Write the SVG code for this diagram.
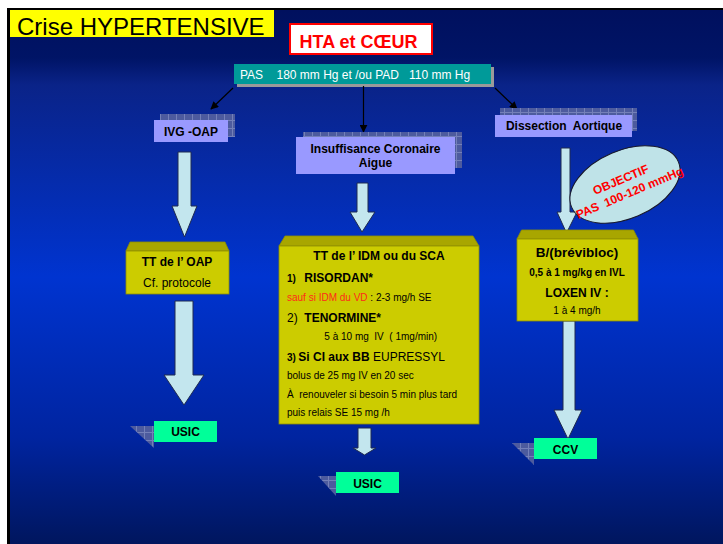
<svg xmlns="http://www.w3.org/2000/svg" width="723" height="544" viewBox="0 0 723 544">
<defs>
<linearGradient id="bg" x1="0" y1="10" x2="0" y2="544" gradientUnits="userSpaceOnUse">
<stop offset="0" stop-color="#00105e"/>
<stop offset="0.09" stop-color="#001466"/>
<stop offset="0.14" stop-color="#0a2388"/>
<stop offset="0.5" stop-color="#0034d0"/>
<stop offset="0.8" stop-color="#0024a0"/>
<stop offset="1" stop-color="#00165e"/>
</linearGradient>
<pattern id="hatch" width="8" height="8" patternUnits="userSpaceOnUse">
<rect width="8" height="8" fill="#4d5b9e"/>
<path d="M0 0.5H8M0.5 0V8" stroke="#7480b8" stroke-width="1"/>
</pattern>
<marker id="ah" viewBox="0 0 10 10" refX="9" refY="5" markerWidth="8" markerHeight="8" orient="auto" markerUnits="userSpaceOnUse">
<path d="M0 0L10 5L0 10Z" fill="#000"/>
</marker>
<style>
text{font-family:"Liberation Sans",Arial,sans-serif;fill:#000}
.b{font-weight:bold}
.lav{fill:#9999ff}
.sh{fill:url(#hatch)}
.front{fill:#cccc00;stroke:#8f8f00;stroke-width:0.8}
.top{fill:#a8a600;stroke:#8f8f00;stroke-width:0.8}
.grn{fill:#00ff99}
.blk{fill:#c3e6ee;stroke:#1e2a50;stroke-width:1}
.ln{stroke:#000;stroke-width:1.2;fill:none}
.red{fill:#ff0000}
</style>
</defs>

<rect x="0" y="0" width="723" height="544" fill="#fff"/>
<rect x="10" y="10" width="713" height="534" fill="url(#bg)"/>
<rect x="7" y="8" width="3" height="536" fill="#000"/>
<rect x="7" y="8" width="716" height="2" fill="#000"/>

<g id="title">
<rect x="10" y="10" width="264" height="27" fill="#ffff00"/>
<text x="17" y="35" font-size="24">Crise HYPERTENSIVE</text>
</g>

<g id="hta">
<rect x="290" y="24" width="142" height="30" fill="#fff" stroke="#ff0000" stroke-width="2"/>
<text x="358.5" y="47.5" font-size="18" class="b red" text-anchor="middle">HTA et CŒUR</text>
</g>

<g id="pas">
<rect x="237" y="67" width="257" height="20" fill="#9a9a9a"/>
<rect x="234" y="64" width="257" height="20" fill="#009a99"/>
<text x="240" y="78.7" font-size="12" style="fill:#fff" xml:space="preserve">PAS    180 mm Hg et /ou PAD   110 mm Hg</text>
</g>

<g id="connectors">
<line class="ln" x1="233" y1="88" x2="211" y2="109" marker-end="url(#ah)"/>
<line class="ln" x1="363.5" y1="86" x2="363.5" y2="132" marker-end="url(#ah)"/>
<line class="ln" x1="495" y1="88" x2="517" y2="109" marker-end="url(#ah)"/>
<path class="blk" d="M178 152H191V206H197L184.5 237L172 206H178Z"/>
<path class="blk" d="M175 301H193V375H204L184 405L164 375H175Z"/>
<path class="blk" d="M357 183H368V212H375L362 232L350 212H357Z"/>
<path class="blk" d="M358 428H371V448H376L364.5 455L353 448H358Z"/>
<path class="blk" d="M561 148H570V212H577L566.5 233L557 212H561Z"/>
<path class="blk" d="M563 321H575V410H582L568 439L554 410H563Z"/>
</g>

<g id="ivg">
<rect class="sh" x="160" y="114" width="75" height="23"/>
<rect class="lav" x="154" y="120" width="74" height="22"/>
<text x="191" y="135.5" font-size="12" class="b" text-anchor="middle">IVG -OAP</text>
</g>

<g id="coronaire">
<rect class="sh" x="303" y="132" width="159" height="36"/>
<rect class="lav" x="296" y="137" width="159" height="37"/>
<text x="375.5" y="152.7" font-size="12" class="b" text-anchor="middle">Insuffisance Coronaire</text>
<text x="375.5" y="166.7" font-size="12" class="b" text-anchor="middle">Aigue</text>
</g>

<g id="dissection">
<rect class="sh" x="500" y="108" width="137" height="23"/>
<rect class="lav" x="495" y="115" width="137" height="22"/>
<text x="564" y="130" font-size="12" class="b" text-anchor="middle" xml:space="preserve">Dissection  Aortique</text>
</g>

<g id="objectif" transform="translate(625 184.5) rotate(-23)">
<ellipse cx="0" cy="0" rx="58" ry="34" fill="#bfe3e8" stroke="#1a1a2a" stroke-width="1"/>
<text x="-2" y="-2" font-size="12" class="b red" text-anchor="middle">OBJECTIF</text>
<text x="1" y="13.5" font-size="12" class="b red" text-anchor="middle" xml:space="preserve">PAS  100-120 mmHg</text>
</g>

<g id="tt-oap">
<polygon class="top" points="130,242 225,242 229,251 126,251"/>
<rect class="front" x="126" y="251" width="103" height="43"/>
<text x="177" y="265.7" font-size="12" class="b" text-anchor="middle">TT de l’ OAP</text>
<text x="177" y="287" font-size="12" text-anchor="middle">Cf. protocole</text>
</g>

<g id="tt-idm">
<polygon class="top" points="285,236 473,236 479,246 279,246"/>
<rect class="front" x="279" y="246" width="200" height="178"/>
<text x="379" y="260" font-size="12" class="b" text-anchor="middle">TT de l’ IDM ou du SCA</text>
<text x="287" y="282.3" font-size="10" class="b">1)</text>
<text x="304.3" y="282.3" font-size="12" class="b">RISORDAN*</text>
<text x="287" y="300.7" font-size="10"><tspan style="fill:#ff2a1a">sauf si IDM du VD</tspan> : 2-3 mg/h SE</text>
<text x="287" y="322.3" font-size="12">2)</text>
<text x="304.3" y="322.3" font-size="12" class="b">TENORMINE*</text>
<text x="324.3" y="340" font-size="10" xml:space="preserve">5 à 10 mg  IV  ( 1mg/min)</text>
<text x="287" y="361" font-size="10" class="b">3)</text>
<text x="298.3" y="361" font-size="12"><tspan class="b">Si CI aux BB</tspan> EUPRESSYL</text>
<text x="287" y="379.3" font-size="10">bolus de 25 mg IV en 20 sec</text>
<text x="287" y="397.7" font-size="10" xml:space="preserve">À  renouveler si besoin 5 min plus tard</text>
<text x="287" y="415.7" font-size="10">puis relais SE 15 mg /h</text>
</g>

<g id="brevibloc">
<polygon class="top" points="521.5,230 633.5,230 638,239 517,239"/>
<rect class="front" x="517" y="239" width="121" height="82"/>
<text x="577" y="257.3" font-size="13.5" class="b" text-anchor="middle">B/(brévibloc)</text>
<text x="577" y="276" font-size="10" class="b" text-anchor="middle">0,5 à 1 mg/kg en IVL</text>
<text x="577" y="296.7" font-size="12" class="b" text-anchor="middle">LOXEN IV :</text>
<text x="577" y="314.3" font-size="10" text-anchor="middle">1 à 4 mg/h</text>
</g>

<g id="usic-left">
<polygon class="sh" points="130,426 154,426 154,448"/>
<rect class="grn" x="154" y="421" width="63" height="21"/>
<text x="185.5" y="436" font-size="12" class="b" text-anchor="middle">USIC</text>
</g>

<g id="usic-center">
<polygon class="sh" points="318,476 336,476 336,496"/>
<rect class="grn" x="336" y="472" width="63" height="21"/>
<text x="367.5" y="487.5" font-size="12" class="b" text-anchor="middle">USIC</text>
</g>

<g id="ccv">
<polygon class="sh" points="512,443 534,443 534,465"/>
<rect class="grn" x="534" y="438" width="63" height="21"/>
<text x="565.5" y="453.5" font-size="12" class="b" text-anchor="middle">CCV</text>
</g>
</svg>
